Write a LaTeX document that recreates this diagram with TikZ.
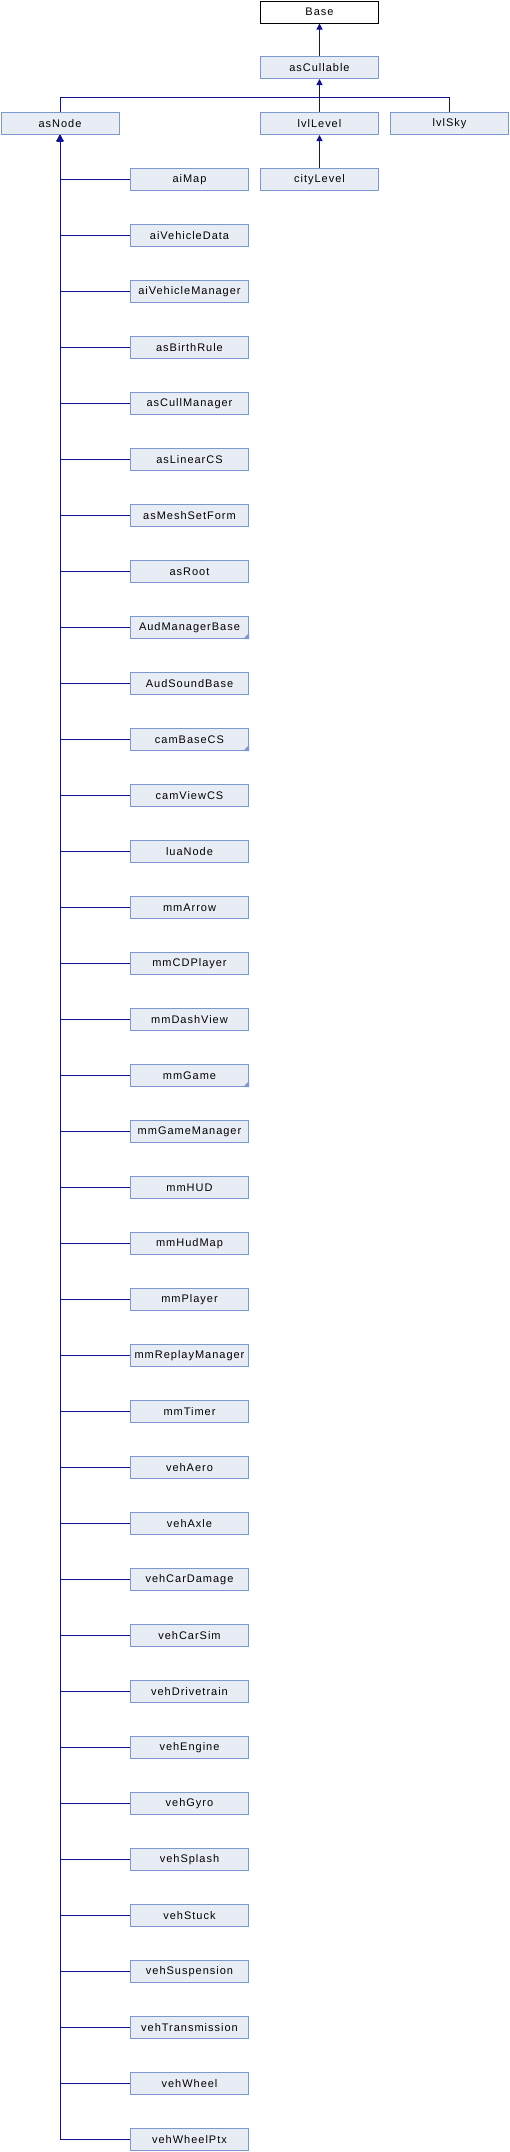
\documentclass[tikz,border=0pt]{standalone}
\usepackage{fontspec}
\setmainfont{Liberation Sans}[LetterSpace=9]
\usetikzlibrary{arrows.meta}
\definecolor{boxfill}{HTML}{E8ECF4}
\definecolor{boxline}{HTML}{7C98D0}
\definecolor{edgecol}{HTML}{10109A}
\begin{document}
\begin{tikzpicture}[x=1pt,y=-1pt,
  cls/.style={draw=boxline,fill=boxfill,line width=1pt,minimum width=118pt,minimum height=22pt,inner sep=0pt,font=\fontsize{11}{13}\selectfont},
  basecls/.style={cls,draw=black,fill=white},
  edge/.style={draw=edgecol,line width=1pt,-{Triangle[length=6pt,width=6pt]}},
  plain/.style={draw=edgecol,line width=1pt}
]
\useasboundingbox (0,0) rectangle (510,2152);
\node[basecls] (Base) at (319.5,12) {Base};
\node[cls] (asCullable) at (319.5,67.5) {asCullable};
\node[cls] (asNode) at (60,123.5) {asNode};
\node[cls] (lvlLevel) at (319.5,123.5) {lvlLevel};
\node[cls] (lvlSky) at (449.5,123.5) {lvlSky};
\node[cls] (cityLevel) at (319.5,179.5) {cityLevel};
\coordinate (busL) at (60,97);
\coordinate (busR) at (449.5,97);
\draw[edge] (asCullable) -- (Base);
\draw[edge] (lvlLevel) -- (asCullable);
\draw[plain] (asNode.north) -- (busL) -- (busR) -- (lvlSky.north);
\draw[edge] (cityLevel) -- (lvlLevel);
\foreach \name [count=\i from 0] in {aiMap,aiVehicleData,aiVehicleManager,asBirthRule,asCullManager,asLinearCS,asMeshSetForm,asRoot,AudManagerBase,AudSoundBase,camBaseCS,camViewCS,luaNode,mmArrow,mmCDPlayer,mmDashView,mmGame,mmGameManager,mmHUD,mmHudMap,mmPlayer,mmReplayManager,mmTimer,vehAero,vehAxle,vehCarDamage,vehCarSim,vehDrivetrain,vehEngine,vehGyro,vehSplash,vehStuck,vehSuspension,vehTransmission,vehWheel,vehWheelPtx}{
  \node[cls] (c\i) at (189.5,179.5+56*\i) {\name};
  \draw[edge] (c\i.west) -| (asNode.south);
}
\foreach \i in {8,10,16}{
  \fill[boxline] (c\i.south east) -- ++(-6,0) -- ++(6,-6) -- cycle;
}
\end{tikzpicture}
\end{document}
